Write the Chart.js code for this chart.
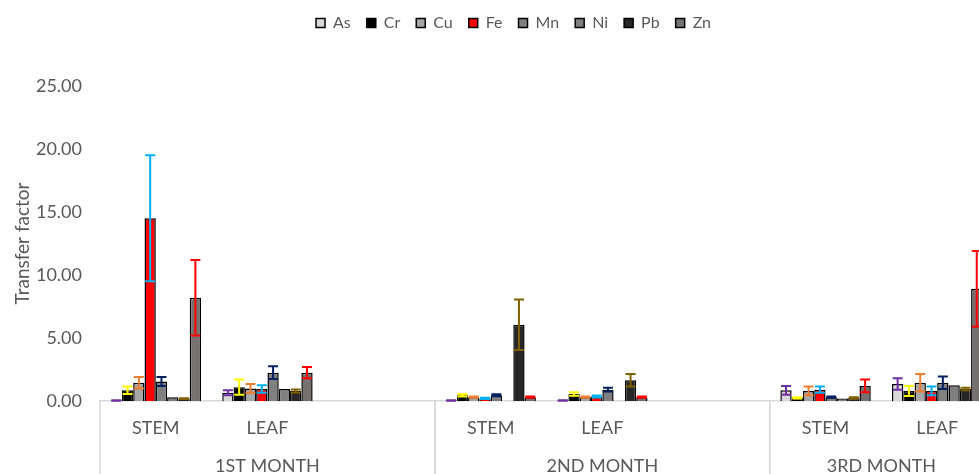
<!DOCTYPE html>
<html lang="en">
<head>
    <meta charset="UTF-8">
    <title>Transfer factor</title>
    <script src="https://cdn.jsdelivr.net/npm/chart.js"></script>
    <style>
        body { margin: 0; overflow: hidden; background: #fff; }
    </style>
</head>
<body>
<canvas id="tfChart" width="1030" height="490"></canvas>

<script>
        // categories: 3 months, STEM / LEAF each (blank slot between months)
        const parts = ['STEM', 'LEAF', '', 'STEM', 'LEAF', '', 'STEM', 'LEAF'];
        const months = ['1ST MONTH', '2ND MONTH', '3RD MONTH'];
        const monthSpans = [3, 3, 2];

        const asVals = [0.04, 0.65, null, 0.03, 0.03, null, 0.85, 1.35];
        const asErr  = [0.02, 0.2, null, 0.02, 0.02, null, 0.35, 0.45];
        const crVals = [0.85, 1.1, null, 0.45, 0.55, null, 0.25, 0.8];
        const crErr  = [0.3, 0.6, null, 0.1, 0.14, null, 0.05, 0.4];
        const cuVals = [1.45, 1.0, null, 0.3, 0.3, null, 0.8, 1.45];
        const cuErr  = [0.45, 0.35, null, 0.05, 0.05, null, 0.35, 0.7];
        const feVals = [14.5, 0.95, null, 0.2, 0.35, null, 0.9, 0.8];
        const feErr  = [5.0, 0.3, null, 0.05, 0.08, null, 0.25, 0.35];
        const mnVals = [1.55, 2.25, null, 0.45, 0.9, null, 0.3, 1.45];
        const mnErr  = [0.35, 0.5, null, 0.08, 0.15, null, 0.05, 0.5];
        const niVals = [0.3, 0.95, null, 0, 0, null, 0.2, 1.25];
        const niErr  = [0, 0, null, 0, 0, null, 0, 0];
        const pbVals = [0.18, 0.8, null, 6.05, 1.65, null, 0.25, 0.95];
        const pbErr  = [0.03, 0.12, null, 2.0, 0.5, null, 0.05, 0.1];
        const znVals = [8.2, 2.25, null, 0.3, 0.3, null, 1.2, 8.9];
        const znErr  = [3.0, 0.45, null, 0.05, 0.05, null, 0.5, 3.0];

        const textColor = '#595959';
        const font = 'Lato';

        function makeSet(label, data, errors, fill, errColor) {
            return {
                label: label,
                data: data,
                errors: errors,
                errorColor: errColor,
                backgroundColor: fill,
                borderColor: '#000000',
                borderWidth: 1.5,
                categoryPercentage: 0.81,
                barPercentage: 1.0
            };
        }

        const errorBars = {
            id: 'errorBars',
            afterDatasetsDraw(chart) {
                const ctx = chart.ctx;
                const y = chart.scales.y;
                chart.data.datasets.forEach((ds, i) => {
                    const meta = chart.getDatasetMeta(i);
                    meta.data.forEach((bar, j) => {
                        const v = ds.data[j];
                        const e = ds.errors[j];
                        if (v == null || !e) return;
                        const top = y.getPixelForValue(v + e);
                        const bot = y.getPixelForValue(Math.max(0, v - e));
                        ctx.save();
                        ctx.strokeStyle = ds.errorColor;
                        ctx.lineWidth = 2;
                        ctx.beginPath();
                        ctx.moveTo(bar.x, top);
                        ctx.lineTo(bar.x, bot);
                        ctx.moveTo(bar.x - 5, top);
                        ctx.lineTo(bar.x + 5, top);
                        ctx.moveTo(bar.x - 5, bot);
                        ctx.lineTo(bar.x + 5, bot);
                        ctx.stroke();
                        ctx.restore();
                    });
                });
            }
        };

        // two-level category axis: part labels, month labels and separators
        const groupAxis = {
            id: 'groupAxis',
            afterDraw(chart) {
                const ctx = chart.ctx;
                const xs = chart.scales.x;
                const area = chart.chartArea;
                const half = (xs.getPixelForValue(1) - xs.getPixelForValue(0)) / 2;
                ctx.save();
                ctx.fillStyle = textColor;
                ctx.textAlign = 'center';
                ctx.textBaseline = 'middle';
                ctx.font = '18px ' + font;
                parts.forEach((p, i) => {
                    if (p) ctx.fillText(p, xs.getPixelForValue(i), area.bottom + 27);
                });
                ctx.strokeStyle = '#D9D9D9';
                ctx.lineWidth = 1.5;
                let start = 0;
                months.forEach((m, k) => {
                    const x0 = xs.getPixelForValue(start) - half;
                    const x1 = xs.getPixelForValue(start + monthSpans[k] - 1) + half;
                    ctx.fillText(m, (x0 + x1) / 2, area.bottom + 65);
                    ctx.beginPath();
                    ctx.moveTo(x0, area.bottom);
                    ctx.lineTo(x0, chart.height);
                    ctx.moveTo(x1, area.bottom);
                    ctx.lineTo(x1, chart.height);
                    ctx.stroke();
                    start += monthSpans[k];
                });
                ctx.restore();
            }
        };

        // extra room under the legend, and legend centred on the whole chart width
        const legendSpace = {
            id: 'legendSpace',
            beforeInit(chart) {
                const fitOrig = chart.legend.fit;
                chart.legend.fit = function () {
                    fitOrig.call(this);
                    this.height += 40;
                };
                const drawOrig = chart.legend.draw;
                chart.legend.draw = function () {
                    this.ctx.save();
                    this.ctx.translate(17, -5);
                    drawOrig.call(this);
                    this.ctx.restore();
                };
            }
        };

        const ctx = document.getElementById('tfChart').getContext('2d');

        let tfChart = new Chart(ctx, {
            type: 'bar',
            data: {
                labels: parts,
                datasets: [
                    makeSet('As', asVals, asErr, '#D9D9D9', '#7030A0'),
                    makeSet('Cr', crVals, crErr, '#000000', '#FFFF00'),
                    makeSet('Cu', cuVals, cuErr, '#A6A6A6', '#ED7D31'),
                    makeSet('Fe', feVals, feErr, '#FF0000', '#00B0F0'),
                    makeSet('Mn', mnVals, mnErr, '#808080', '#002060'),
                    makeSet('Ni', niVals, niErr, '#7F7F7F', '#7F7F7F'),
                    makeSet('Pb', pbVals, pbErr, '#262626', '#7F6000'),
                    makeSet('Zn', znVals, znErr, '#767171', '#FF0000')
                ]
            },
            options: {
                responsive: false,
                animation: false,
                devicePixelRatio: 1,
                layout: { padding: { top: 4, right: 37, left: 0, bottom: 0 } },
                plugins: {
                    legend: {
                        position: 'top',
                        labels: {
                            boxWidth: 9,
                            boxHeight: 9,
                            padding: 16,
                            color: textColor,
                            font: { family: font, size: 16 }
                        }
                    },
                    tooltip: { enabled: false }
                },
                scales: {
                    x: {
                        grid: { display: false, drawTicks: false },
                        border: { color: '#D9D9D9', width: 1.5 },
                        ticks: { display: false },
                        afterFit(scale) { scale.height = 89; }
                    },
                    y: {
                        min: 0,
                        max: 25,
                        grid: { display: false, drawTicks: false },
                        border: { display: false },
                        ticks: {
                            stepSize: 5,
                            padding: 18,
                            color: textColor,
                            font: { family: font, size: 18 },
                            callback: v => v.toFixed(2)
                        },
                        title: {
                            display: true,
                            text: 'Transfer factor',
                            color: textColor,
                            font: { family: font, size: 19 },
                            padding: { top: 11, bottom: 0 }
                        },
                        afterFit(scale) { scale.width = 100; }
                    }
                }
            },
            plugins: [errorBars, groupAxis, legendSpace]
        });
    </script>
</body>
</html>
